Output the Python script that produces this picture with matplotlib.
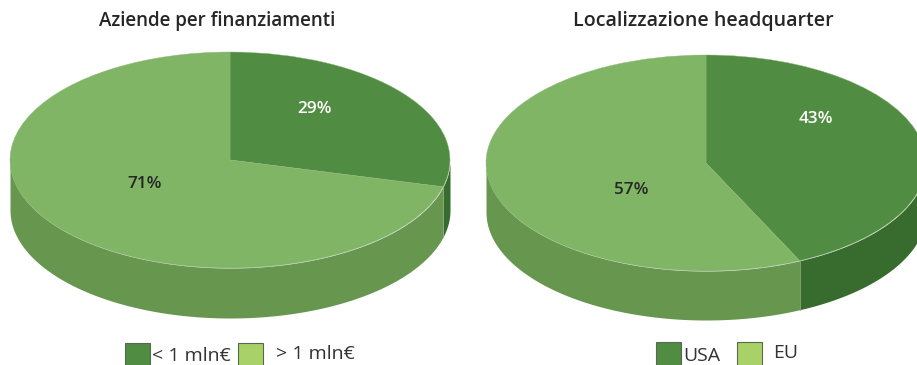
import numpy as np
import matplotlib
matplotlib.use('Agg')
import matplotlib.pyplot as plt
from matplotlib.patches import Rectangle

plt.rcParams['font.family'] = ['Open Sans', 'DejaVu Sans']

W, H = 917, 365

# dati
titles = ['Aziende per finanziamenti', 'Localizzazione headquarter']
funding_labels = ['< 1 mln€', '> 1 mln€']
funding_values = [29, 71]
hq_labels = ['USA', 'EU']
hq_values = [43, 57]

top_colors = ['#508c41', '#80b566']
side_colors = ['#386b2e', '#67964f']
legend_colors = ['#508c41', '#a8d268']
text_colors = ['white', '#262626']


def pie_3d(cx, cy, values, title, title_x, title_y, title_size, pct_pos, depth):
    rx, ry = 220, 108
    # asse in pixel: il cerchio unitario diventa un'ellisse
    ax = fig.add_axes([(cx - rx) / W, 1 - (cy + ry) / H, 2 * rx / W, 2 * ry / H])
    ax.pie(values, colors=top_colors, startangle=90, counterclock=False, radius=1,
           wedgeprops={'linewidth': 0.3, 'edgecolor': '#8fb87c', 'zorder': 3})
    ax.set_aspect('auto')
    ax.set_xlim(-1, 1)
    ax.set_ylim(-1, 1)
    ax.patch.set_visible(False)

    # fianco del cilindro, dai valori (solo la meta inferiore si vede)
    d = depth / ry
    fr = np.cumsum([0] + values) / sum(values)
    angles = 90 - fr * 360
    for i in range(len(values)):
        lo, hi = max(angles[i + 1], -180), min(angles[i], 0)
        if hi > lo:
            t = np.radians(np.linspace(lo, hi, 300))
            ax.fill_between(np.cos(t), np.sin(t), np.sin(t) - d, color=side_colors[i],
                            lw=0, clip_on=False, zorder=1)
    a = np.radians(angles[1])
    ax.plot([np.cos(a)] * 2, [np.sin(a), np.sin(a) - d], color='#8aa87c', lw=0.5,
            clip_on=False, zorder=2)

    fig.text(title_x / W, 1 - title_y / H, title, ha='center', va='center',
             fontsize=title_size, fontweight='semibold', color='#262626')
    for v, pos, c in zip(values, pct_pos, text_colors):
        fig.text(pos[0] / W, 1 - pos[1] / H, f'{v}%', ha='center', va='center',
                 fontsize=12.3, fontweight='semibold', color=c)


def legend_item(x, y, color, label, text_x, text_y):
    fig.add_artist(Rectangle((x / W, 1 - (y + 25) / H), 25 / W, 25 / H, facecolor=color,
                             edgecolor='#5a6652', lw=0.8, transform=fig.transFigure))
    fig.text(text_x / W, 1 - text_y / H, label, ha='left', va='center',
             fontsize=14, color='#333333')


fig = plt.figure(figsize=(W / 100, H / 100), dpi=100, facecolor='white')

pie_3d(230, 160, funding_values, titles[0], 217, 21, 13.5, [(314, 109), (145, 184)], 50)
pie_3d(706, 163, hq_values, titles[1], 703, 21, 14.1, [(816, 119), (631, 190)], 49)

legend_item(125, 343, legend_colors[0], funding_labels[0], 152, 356)
legend_item(238, 343, legend_colors[1], funding_labels[1], 276, 354)
legend_item(656, 342, legend_colors[0], hq_labels[0], 683, 356)
legend_item(737, 342, legend_colors[1], hq_labels[1], 773, 353)

fig.savefig('out.png', dpi=100)
